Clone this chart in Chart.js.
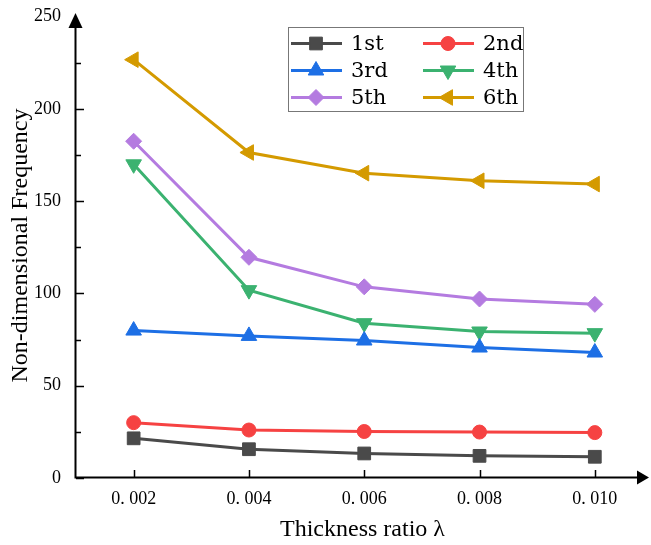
<!DOCTYPE html>
<html>
<head>
<meta charset="utf-8">
<script src="https://cdn.jsdelivr.net/npm/chart.js@4.4.0/dist/chart.umd.min.js"></script>
<style>
html, body { margin: 0; padding: 0; background: #fff; }
</style>
</head>
<body>
<canvas id="grafico" width="651" height="545"></canvas>
<script>
// datos
const thickness = [0.002, 0.004, 0.006, 0.008, 0.010];
const xTickLabels = ['0. 002', '0. 004', '0. 006', '0. 008', '0. 010'];
const yTicks = [0, 50, 100, 150, 200, 250];
const modeNames = ['1st', '2nd', '3rd', '4th', '5th', '6th'];

const mode1 = [21.5, 15.6, 13.3, 12.0, 11.5];
const mode2 = [30.0, 26.0, 25.2, 24.9, 24.6];
const mode3 = [79.9, 77.0, 74.5, 70.7, 68.0];
const mode4 = [170.0, 101.8, 83.9, 79.4, 78.5];
const mode5 = [182.5, 119.6, 103.6, 97.0, 94.1];
const mode6 = [226.7, 176.4, 165.2, 161.1, 159.3];

const colores = ['#4a4a4a', '#f64242', '#1d6fe5', '#3bb270', '#b47be0', '#d49a00'];
const estilos = [
    { pointStyle: 'rect', pointRadius: 9, pointRotation: 0 },
    { pointStyle: 'circle', pointRadius: 7, pointRotation: 0 },
    { pointStyle: 'triangle', pointRadius: 9, pointRotation: 0 },
    { pointStyle: 'triangle', pointRadius: 9, pointRotation: 180 },
    { pointStyle: 'rectRot', pointRadius: 8, pointRotation: 0 },
    { pointStyle: 'triangle', pointRadius: 9, pointRotation: 270 },
];

const series = [mode1, mode2, mode3, mode4, mode5, mode6];

const datasets = series.map((valores, i) => ({
    label: modeNames[i],
    data: valores.map((v, j) => ({ x: thickness[j], y: v })),
    borderColor: colores[i],
    backgroundColor: colores[i],
    pointBackgroundColor: colores[i],
    pointBorderColor: colores[i],
    borderWidth: 3,
    pointBorderWidth: 1,
    pointStyle: estilos[i].pointStyle,
    pointRadius: estilos[i].pointRadius,
    pointRotation: estilos[i].pointRotation,
    tension: 0,
    clip: false,
}));

// ejes con flechas y marcas hacia adentro
const ejes = {
    id: 'ejes',
    afterDraw(chart) {
        const ctx = chart.ctx;
        const { left, right, top, bottom } = chart.chartArea;
        const sx = chart.scales.x;
        const sy = chart.scales.y;
        ctx.save();
        ctx.strokeStyle = '#000';
        ctx.fillStyle = '#000';
        ctx.lineWidth = 2;

        ctx.beginPath();
        ctx.moveTo(left - 0.5, bottom);
        ctx.lineTo(left - 0.5, top + 10);
        ctx.moveTo(left - 1.5, bottom - 0.5);
        ctx.lineTo(right - 8, bottom - 0.5);
        ctx.stroke();

        // marcas y
        ctx.lineWidth = 1.5;
        ctx.beginPath();
        for (let v = 0; v < 250; v += 25) {
            const py = Math.round(sy.getPixelForValue(v)) + 0.5;
            const len = v % 50 === 0 ? 8 : 5;
            ctx.moveTo(left, py);
            ctx.lineTo(left + len, py);
        }
        // marcas x
        thickness.forEach(t => {
            const px = Math.round(sx.getPixelForValue(t)) + 0.5;
            ctx.moveTo(px, bottom);
            ctx.lineTo(px, bottom - 8);
        });
        ctx.stroke();

        // flechas
        ctx.beginPath();
        ctx.moveTo(left - 0.5, top);
        ctx.lineTo(left - 7.5, top + 15);
        ctx.lineTo(left + 6.5, top + 15);
        ctx.closePath();
        ctx.fill();

        ctx.beginPath();
        ctx.moveTo(right, bottom - 0.5);
        ctx.lineTo(right - 12, bottom - 7.5);
        ctx.lineTo(right - 12, bottom + 6.5);
        ctx.closePath();
        ctx.fill();
        ctx.restore();
    }
};

// leyenda en dos columnas dentro del area
const leyenda = {
    id: 'leyenda',
    afterDraw(chart) {
        const ctx = chart.ctx;
        ctx.save();
        ctx.fillStyle = '#fff';
        ctx.fillRect(288, 27, 235, 84);
        ctx.strokeStyle = '#777';
        ctx.lineWidth = 1;
        ctx.strokeRect(288.5, 27.5, 235, 84);

        chart.data.datasets.forEach((ds, i) => {
            const col = i % 2;
            const row = Math.floor(i / 2);
            const x0 = col ? 423 : 291;
            const y = 43.5 + row * 27;
            ctx.strokeStyle = ds.borderColor;
            ctx.fillStyle = ds.borderColor;
            ctx.lineWidth = 3;
            ctx.beginPath();
            ctx.moveTo(x0, y);
            ctx.lineTo(x0 + 51, y);
            ctx.stroke();
            ctx.lineWidth = 1;
            Chart.helpers.drawPoint(ctx, {
                pointStyle: ds.pointStyle,
                rotation: ds.pointRotation,
                radius: ds.pointRadius,
                borderWidth: 1,
            }, x0 + 25, y);
            ctx.fillStyle = '#000';
            ctx.font = '21px "DejaVu Serif"';
            ctx.textBaseline = 'middle';
            ctx.textAlign = 'left';
            ctx.fillText(ds.label, x0 + 60, y + 1);
        });
        ctx.restore();
    }
};

// quitar el relleno extra que Chart.js reserva para las etiquetas
const sinRelleno = scale => {
    scale.paddingTop = 0;
    scale.paddingBottom = 0;
    scale.paddingLeft = 0;
    scale.paddingRight = 0;
};

const ctx = document.getElementById('grafico').getContext('2d');

new Chart(ctx, {
    type: 'line',
    data: { datasets: datasets },
    options: {
        responsive: false,
        animation: false,
        devicePixelRatio: 1,
        layout: { autoPadding: false, padding: { left: 0, top: 13, right: 2, bottom: 0 } },
        plugins: {
            legend: { display: false },
            tooltip: { enabled: false },
        },
        scales: {
            x: {
                type: 'linear',
                min: 0.001,
                max: 0.01094,
                grid: { display: false, drawTicks: false },
                border: { display: false },
                afterBuildTicks: scale => {
                    scale.ticks = thickness.map(v => ({ value: v }));
                },
                afterFit: scale => { scale.height = 67; sinRelleno(scale); },
                ticks: {
                    padding: 10,
                    color: '#000',
                    font: { family: '"Liberation Serif"', size: 18 },
                    callback: (value, index) => xTickLabels[index],
                },
                title: {
                    display: true,
                    text: 'Thickness ratio λ',
                    color: '#000',
                    font: { family: '"Liberation Serif"', size: 24 },
                    padding: { top: 0, bottom: 1 },
                },
            },
            y: {
                min: 0,
                max: 252,
                grid: { display: false, drawTicks: false },
                border: { display: false },
                afterBuildTicks: scale => {
                    scale.ticks = yTicks.map(v => ({ value: v }));
                },
                afterFit: scale => { scale.width = 76; sinRelleno(scale); },
                ticks: {
                    padding: 15,
                    color: '#000',
                    font: { family: '"Liberation Serif"', size: 18 },
                },
                title: {
                    display: true,
                    text: 'Non-dimensional Frequency',
                    color: '#000',
                    font: { family: '"Liberation Serif"', size: 24 },
                    padding: { top: 6, bottom: 0 },
                },
            },
        },
    },
    plugins: [ejes, leyenda],
});
</script>
</body>
</html>
